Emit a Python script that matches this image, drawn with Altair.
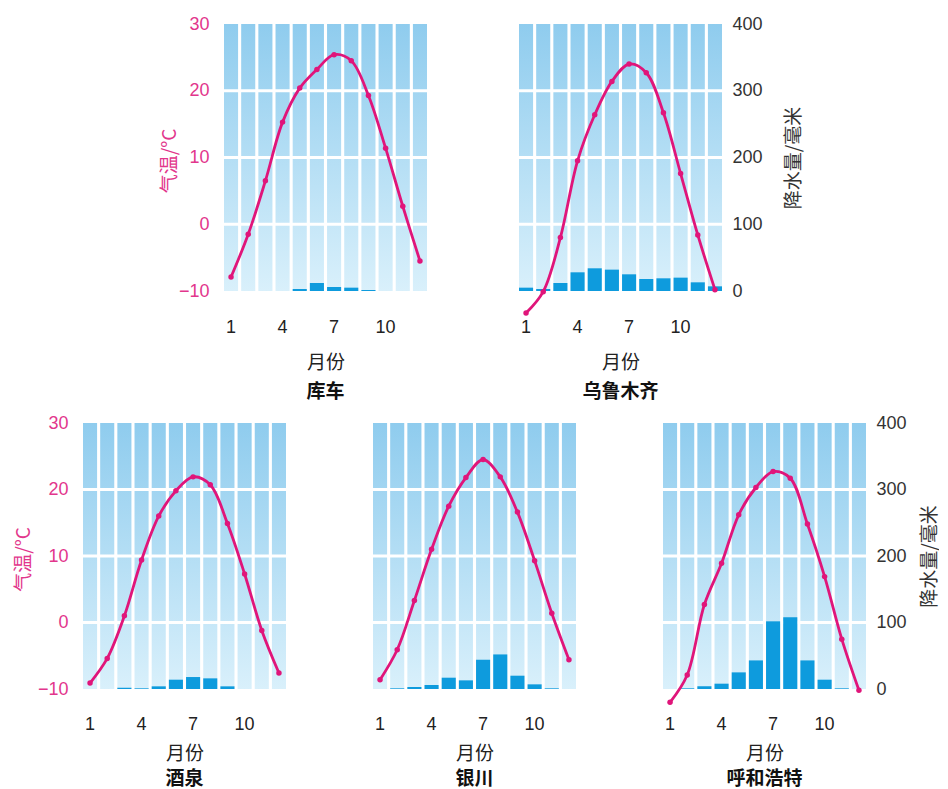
import altair as alt
import pandas as pd

months = list(range(1, 13))

# 库车
kuche_temp = [-7.9, -1.5, 6.5, 15.3, 20.4, 23.2, 25.4, 24.5, 19.3, 11.4, 2.7, -5.5]
kuche_prec = [0, 0, 0, 0, 3, 12, 6, 5, 1.5, 0, 0, 0]
# 乌鲁木齐
wlmq_temp = [-13.3, -10.1, -2.0, 9.5, 16.4, 21.4, 24.0, 22.7, 16.7, 7.6, -1.6, -9.8]
wlmq_prec = [5, 3, 12, 28, 34, 32, 25, 18, 19, 20, 13, 7]
# 酒泉
jq_temp = [-9.1, -5.4, 1.0, 9.4, 16.0, 19.8, 21.9, 20.7, 14.9, 7.3, -1.2, -7.6]
jq_prec = [0, 0, 2, 1, 4, 14, 18, 16, 4, 0, 0, 0]
# 银川
yc_temp = [-8.6, -4.1, 3.3, 11.0, 17.5, 21.8, 24.5, 21.9, 16.6, 9.3, 1.4, -5.6]
yc_prec = [0, 1, 3, 6, 17, 13, 44, 52, 20, 7, 1, 0]
# 呼和浩特
hh_temp = [-12.0, -7.9, 2.7, 8.9, 16.2, 20.3, 22.7, 21.7, 14.8, 6.9, -2.5, -10.2]
hh_prec = [0, 1, 4, 8, 25, 43, 102, 108, 43, 14, 1, 0]

month_ticks = [1, 4, 7, 10]
temp_ticks = [-10, 0, 10, 20, 30]
prec_ticks = [0, 100, 200, 300, 400]
grid_vals = [0, 10, 20]

PINK = "#E0157A"
PINK_TXT = "#E2368C"
BAR = "#0E9BDD"
NUM_FONT = "Liberation Sans"
CJK_FONT = "Noto Sans CJK SC"

gradient = alt.Gradient(
    gradient="linear",
    stops=[alt.GradientStop(color="#8FCCEE", offset=0),
           alt.GradientStop(color="#D9F0FB", offset=1)],
    x1=0, x2=0, y1=0, y2=1,
)

W = 203


def panel(name, temp, prec, h, lab_pad, ttl_pad, name_off,
          left_x=None, right_x=None):
    df = pd.DataFrame({"month": months, "temp": temp, "prec": prec,
                       "top": [30] * 12, "bot": [-10] * 12})
    gdf = pd.DataFrame({"g": grid_vals})
    xenc = alt.X("month:O",
                 scale=alt.Scale(paddingInner=0.18, paddingOuter=0),
                 axis=alt.Axis(values=month_ticks, labelAngle=0, ticks=False,
                               domain=False, grid=False, labelPadding=lab_pad,
                               labelFont=NUM_FONT, labelFontSize=18,
                               labelColor="#222", title="月份",
                               titleFont=CJK_FONT, titleFontSize=19,
                               titleFontWeight="normal", titleColor="#222",
                               titlePadding=ttl_pad))
    tscale = alt.Scale(domain=[-10, 30], zero=False, nice=False)
    pscale = alt.Scale(domain=[0, 400], zero=False, nice=False)
    if left_x is not None:
        taxis = alt.Axis(values=temp_ticks, orient="left", ticks=False,
                         domain=False, grid=False, labelPadding=15,
                         labelFont=NUM_FONT, labelFontSize=18,
                         labelColor=PINK_TXT, title="气温/°C",
                         titleFont=CJK_FONT, titleFontSize=19,
                         titleFontWeight="normal", titleColor=PINK_TXT,
                         titleAngle=270, titleBaseline="middle",
                         titleAlign="center", titleX=left_x, titleY=h / 2 + 3)
    else:
        taxis = None
    if right_x is not None:
        paxis = alt.Axis(values=prec_ticks, orient="right", ticks=False,
                         domain=False, grid=False, labelPadding=10,
                         labelFont=NUM_FONT, labelFontSize=18,
                         labelColor="#333", title="降水量/毫米",
                         titleFont=CJK_FONT, titleFontSize=19,
                         titleFontWeight="normal", titleColor="#333",
                         titleAngle=270, titleBaseline="middle",
                         titleAlign="center", titleX=right_x, titleY=h / 2)
    else:
        paxis = None

    base = alt.Chart(df)
    stripes = base.mark_rect(color=gradient).encode(
        x=xenc,
        y=alt.Y("top:Q", scale=tscale, axis=taxis),
        y2="bot:Q",
    )
    rules = alt.Chart(gdf).mark_rule(color="white", strokeWidth=3).encode(
        y=alt.Y("g:Q", scale=tscale, axis=None)
    )
    bars = base.mark_bar(color=BAR).encode(
        x=alt.X("month:O"),
        y=alt.Y("prec:Q", scale=pscale, axis=paxis),
    )
    line = base.mark_line(color=PINK, strokeWidth=2.8,
                          interpolate="catmull-rom").encode(
        x=alt.X("month:O"),
        y=alt.Y("temp:Q", scale=tscale, axis=None),
    )
    pts = base.mark_circle(color=PINK, size=30, opacity=1).encode(
        x=alt.X("month:O"),
        y=alt.Y("temp:Q", scale=tscale, axis=None),
    )
    return alt.layer(stripes, rules, bars, line, pts).resolve_scale(
        y="independent"
    ).properties(
        width=W, height=h,
        title=alt.TitleParams(text=name, orient="bottom", font=CJK_FONT,
                              fontSize=19, fontWeight="bold", color="#111",
                              offset=name_off),
    )


spacer = alt.Chart(pd.DataFrame({"v": [0]})).mark_point(opacity=0).encode(
    x=alt.X("v:Q", axis=None), y=alt.Y("v:Q", axis=None)
).properties(width=49, height=267)

top = alt.hconcat(
    spacer,
    panel("库车", kuche_temp, kuche_prec, 267, 27, 17, 11, left_x=-55),
    panel("乌鲁木齐", wlmq_temp, wlmq_prec, 267, 27, 17, 11, right_x=71),
    spacing=92, bounds="flush",
)
bottom = alt.hconcat(
    panel("酒泉", jq_temp, jq_prec, 266, 26, 11, 7, left_x=-60),
    panel("银川", yc_temp, yc_prec, 266, 26, 11, 7),
    panel("呼和浩特", hh_temp, hh_prec, 266, 26, 11, 7, right_x=63),
    spacing=87, bounds="flush",
)

chart = alt.vconcat(top, bottom, spacing=12).properties(
    padding={"left": 6, "top": 7, "right": 0, "bottom": 0}
).configure_view(stroke=None)

chart.save("out.html", embed_options={"renderer": "svg", "actions": False})
